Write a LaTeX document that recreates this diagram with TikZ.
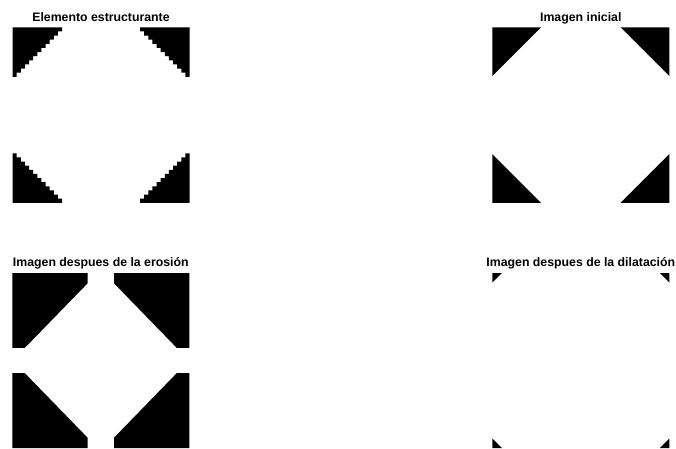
\documentclass[tikz,border=0pt]{standalone}
\usepackage{fontspec}
\setmainfont{Liberation Sans}
\usepackage{tikz}
\usetikzlibrary{positioning}
\tikzset{
  panel-title/.style={font=\fontsize{12.3}{14}\selectfont\bfseries,anchor=base,inner sep=0pt},
  img-fill/.style={fill=black},
  % corner pieces, drawn at the corner of a panel and mirrored into place
  pics/stair-corner/.style={code={
    \fill[img-fill] (0,0) -- (49.5,0)
      \foreach \k in {1,...,12}{ -- ++(0,4.125) -- ++(-4.125,0) } -- cycle;}},
  pics/tri-corner/.style={code={
    \fill[img-fill] (0,0) -- (#1,0) -- (0,#1) -- cycle;}},
  pics/erosion-corner/.style={code={
    \fill[img-fill] (0,0) -- (75.2,0) -- (75.2,10.4) -- (12.6,74.8) -- (0,74.8) -- cycle;}},
}
\begin{document}
\begin{tikzpicture}[x=1pt,y=-1pt]
  \useasboundingbox (0,0) rectangle (676,448);

  % Elemento estructurante
  \node[panel-title] (title-se) at (101,21) {Elemento estructurante};
  \pic at (12.5,27.3) {stair-corner};
  \pic[xscale=-1] at (189.5,27.3) {stair-corner};
  \pic[yscale=-1] at (12.5,202.8) {stair-corner};
  \pic[xscale=-1,yscale=-1] at (189.5,202.8) {stair-corner};

  % Imagen inicial
  \node[panel-title] (title-init) at (580.8,21) {Imagen inicial};
  \pic at (492.3,27.3) {tri-corner=48.7};
  \pic[xscale=-1] at (669.3,27.3) {tri-corner=48.7};
  \pic[yscale=-1] at (492.3,202.8) {tri-corner=48.7};
  \pic[xscale=-1,yscale=-1] at (669.3,202.8) {tri-corner=48.7};

  % erosion
  \node[panel-title] (title-ero) at (100.8,266.6) {Imagen despues de la erosión};
  \pic at (12.3,273) {erosion-corner};
  \pic[xscale=-1] at (189.3,273) {erosion-corner};
  \pic[yscale=-1] at (12.3,448) {erosion-corner};
  \pic[xscale=-1,yscale=-1] at (189.3,448) {erosion-corner};

  % dilatacion
  \node[panel-title] (title-dil) at (580.8,266.6) {Imagen despues de la dilatación};
  \pic at (492.3,273) {tri-corner=9.5};
  \pic[xscale=-1] at (669.3,273) {tri-corner=9.5};
  \pic[yscale=-1] at (492.3,448) {tri-corner=9.5};
  \pic[xscale=-1,yscale=-1] at (669.3,448) {tri-corner=9.5};
\end{tikzpicture}
\end{document}
